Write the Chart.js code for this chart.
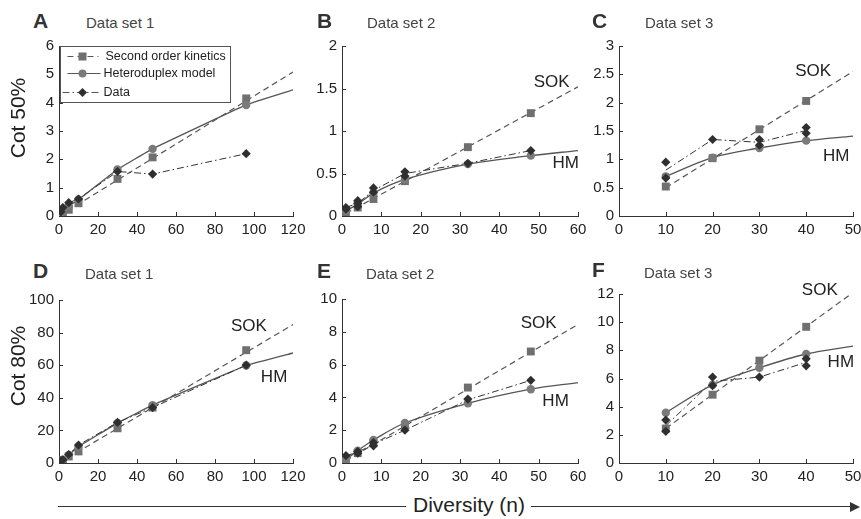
<!DOCTYPE html>
<html>
<head>
<meta charset="utf-8">
<script src="https://cdn.jsdelivr.net/npm/chart.js@4.4.0/dist/chart.umd.min.js"></script>
<style>
  html, body { margin: 0; padding: 0; background: #fff; }
  #fig { position: relative; width: 861px; height: 519px; overflow: hidden; background: #fff;
         font-family: "Liberation Sans", Arial, sans-serif; color: #222; }
  #fig canvas { position: absolute; }
  .letter { position: absolute; font-weight: bold; font-size: 21px; line-height: 21px; color: #333; }
  .subtitle { position: absolute; font-size: 15px; line-height: 15px; color: #444; }
  .ylab { position: absolute; font-size: 21px; line-height: 21px; white-space: nowrap;
          transform: translate(-50%, -50%) rotate(-90deg); }
  .axis-line { position: absolute; height: 0; border-top: 1.5px solid #333; }
  .arrow-head { position: absolute; width: 0; height: 0; border-top: 5px solid transparent;
                border-bottom: 5px solid transparent; border-left: 10px solid #333; }
  #diversity { position: absolute; font-size: 21px; line-height: 21px; white-space: nowrap; }
</style>
</head>
<body>
<div id="fig">
  <canvas id="chartA"></canvas>
  <canvas id="chartB"></canvas>
  <canvas id="chartC"></canvas>
  <canvas id="chartD"></canvas>
  <canvas id="chartE"></canvas>
  <canvas id="chartF"></canvas>

  <div class="letter" style="left:33px;top:10px">A</div>
  <div class="letter" style="left:317px;top:10px">B</div>
  <div class="letter" style="left:592px;top:10px">C</div>
  <div class="letter" style="left:33px;top:260px">D</div>
  <div class="letter" style="left:317px;top:260px">E</div>
  <div class="letter" style="left:592px;top:259px">F</div>

  <div class="subtitle" style="left:86px;top:15px">Data set 1</div>
  <div class="subtitle" style="left:367px;top:15px">Data set 2</div>
  <div class="subtitle" style="left:645px;top:15px">Data set 3</div>
  <div class="subtitle" style="left:85px;top:266px">Data set 1</div>
  <div class="subtitle" style="left:366px;top:266px">Data set 2</div>
  <div class="subtitle" style="left:644px;top:265px">Data set 3</div>

  <div class="ylab" style="left:17px;top:118px">Cot 50%</div>
  <div class="ylab" style="left:17px;top:366px">Cot 80%</div>

  <div class="axis-line" style="left:58px;top:506px;width:348px"></div>
  <div id="diversity" style="left:413px;top:494px">Diversity (n)</div>
  <div class="axis-line" style="left:531px;top:506px;width:322px"></div>
  <div class="arrow-head" style="left:850px;top:502px"></div>
</div>

<script>
// Diversity values where each data set was measured
const set1N = [1, 2, 5, 10, 30, 48, 96];
const set2N = [1, 4, 8, 16, 32, 48];
const set3N = [10, 20, 30, 40];

// Panel A: Cot 50%, data set 1
const aSquares = [0.04, 0.1, 0.22, 0.45, 1.31, 2.07, 4.15];
const aCircles = [0.1, 0.2, 0.35, 0.58, 1.64, 2.37, 3.92];
const aDiamonds = [0.15, 0.3, 0.47, 0.6, 1.57, 1.48, 2.2];
const aSokN = [0, 120];
const aSok = [0, 5.08];
const aHmN = [0, 1, 2, 5, 10, 30, 48, 96, 120];
const aHm = [0, 0.1, 0.2, 0.35, 0.58, 1.64, 2.37, 3.92, 4.45];

// Panel B: Cot 50%, data set 2
const bSquares = [0.03, 0.1, 0.2, 0.41, 0.81, 1.21];
const bCircles = [0.06, 0.14, 0.27, 0.43, 0.61, 0.71];
const bRepN = [1, 1, 4, 4, 4, 8, 8, 16, 16, 32, 48];
const bRep = [0.1, 0.08, 0.18, 0.15, 0.11, 0.33, 0.28, 0.52, 0.47, 0.62, 0.77];
const bMean = [0.1, 0.15, 0.3, 0.5, 0.62, 0.77];
const bSokN = [1, 60];
const bSok = [0.03, 1.52];
const bHmN = [1, 4, 8, 16, 32, 48, 60];
const bHm = [0.06, 0.14, 0.27, 0.43, 0.61, 0.71, 0.77];

// Panel C: Cot 50%, data set 3
const cSquares = [0.52, 1.02, 1.53, 2.03];
const cCircles = [0.7, 1.03, 1.2, 1.33];
const cRepN = [10, 10, 20, 30, 30, 40, 40];
const cRep = [0.95, 0.67, 1.35, 1.35, 1.25, 1.56, 1.46];
const cMean = [0.81, 1.35, 1.3, 1.51];
const cSokN = [10, 50];
const cSok = [0.5, 2.55];
const cHmN = [10, 20, 30, 40, 50];
const cHm = [0.7, 1.03, 1.2, 1.33, 1.41];

// Panel D: Cot 80%, data set 1
const dSquares = [1, 1.5, 4, 7.1, 21.3, 34, 69.2];
const dCircles = [1, 2, 5, 10, 24.5, 35.5, 59.8];
const dDiamonds = [1.5, 2, 5.2, 11, 24.9, 34, 60];
const dSokN = [0, 120];
const dSok = [0, 84.9];
const dHmN = [0, 1, 2, 5, 10, 30, 48, 96, 120];
const dHm = [0, 1, 2, 5, 10, 24.5, 35.5, 59.8, 67.5];

// Panel E: Cot 80%, data set 2
const eSquares = [0.15, 0.6, 1.2, 2.3, 4.6, 6.8];
const eCircles = [0.2, 0.75, 1.4, 2.44, 3.64, 4.5];
const eRepN = [1, 4, 4, 8, 8, 16, 32, 48];
const eRep = [0.45, 0.7, 0.6, 1.25, 1.05, 2.0, 3.9, 5.04];
const eMean = [0.45, 0.65, 1.15, 2.0, 3.85, 5.04];
const eSokN = [1, 60];
const eSok = [0.15, 8.45];
const eHmN = [1, 4, 8, 16, 32, 48, 60];
const eHm = [0.2, 0.75, 1.4, 2.44, 3.64, 4.5, 4.9];

// Panel F: Cot 80%, data set 3
const fSquares = [2.45, 4.85, 7.27, 9.67];
const fCircles = [3.57, 5.55, 6.76, 7.74];
const fRepN = [10, 10, 20, 20, 30, 40, 40];
const fRep = [3.05, 2.25, 6.1, 5.5, 6.1, 7.4, 6.9];
const fMean = [2.65, 5.8, 6.1, 7.15];
const fSokN = [10, 50];
const fSok = [2.45, 12.1];
const fHmN = [10, 20, 30, 40, 50];
const fHm = [3.57, 5.55, 6.76, 7.74, 8.3];

const legendLabels = ['Second order kinetics', 'Heteroduplex model', 'Data'];

const FONT = '"Liberation Sans", Arial, sans-serif';
const pts = (xs, ys) => xs.map((x, i) => ({ x, y: ys[i] }));

// small tick marks pointing into the plot
const innerTicks = {
  id: 'innerTicks',
  afterDatasetsDraw(chart) {
    const { ctx, chartArea: ca, scales: { x, y } } = chart;
    ctx.save();
    ctx.strokeStyle = '#333';
    ctx.lineWidth = 1;
    ctx.beginPath();
    x.ticks.forEach((t, i) => {
      if (i === 0) return;
      const px = Math.round(x.getPixelForValue(t.value)) + 0.5;
      ctx.moveTo(px, ca.bottom);
      ctx.lineTo(px, ca.bottom - 4);
    });
    y.ticks.forEach((t, i) => {
      if (i === 0) return;
      const py = Math.round(y.getPixelForValue(t.value)) + 0.5;
      ctx.moveTo(ca.left, py);
      ctx.lineTo(ca.left + 4, py);
    });
    ctx.stroke();
    ctx.restore();
  }
};

// SOK / HM labels next to the fitted curves
const curveNotes = {
  id: 'curveNotes',
  afterDatasetsDraw(chart, args, opts) {
    if (!opts.items) return;
    const { ctx, scales: { x, y } } = chart;
    ctx.save();
    ctx.fillStyle = '#222';
    ctx.font = '17px ' + FONT;
    ctx.textAlign = 'center';
    ctx.textBaseline = 'middle';
    opts.items.forEach(it => ctx.fillText(it.text, x.getPixelForValue(it.n), y.getPixelForValue(it.v)));
    ctx.restore();
  }
};

function square(ctx, x, y, r, c) { ctx.fillStyle = c; ctx.fillRect(x - r, y - r, 2 * r, 2 * r); }
function circle(ctx, x, y, r, c) { ctx.fillStyle = c; ctx.beginPath(); ctx.arc(x, y, r, 0, Math.PI * 2); ctx.fill(); }
function diamond(ctx, x, y, r, c) {
  ctx.fillStyle = c; ctx.beginPath();
  ctx.moveTo(x, y - r); ctx.lineTo(x + r, y); ctx.lineTo(x, y + r); ctx.lineTo(x - r, y); ctx.closePath(); ctx.fill();
}

// boxed legend in the top left of panel A
const legendBox = {
  id: 'legendBox',
  afterDraw(chart) {
    const { ctx, chartArea: ca } = chart;
    const x0 = ca.left + 1.5, y0 = ca.top + 0.5, w = 170, h = 56;
    ctx.save();
    ctx.fillStyle = '#fff';
    ctx.fillRect(x0, y0, w, h);
    ctx.strokeStyle = '#555';
    ctx.lineWidth = 1;
    ctx.strokeRect(x0, y0, w, h);
    const rows = [y0 + 10, y0 + 27, y0 + 46];
    const samples = [
      { dash: [6, 4], mark: square, r: 4, c: '#6f6f6f', from: 7, to: 38 },
      { dash: [], mark: circle, r: 4, c: '#7a7a7a', from: 7, to: 40 },
      { dash: [7, 3, 1.5, 3], mark: diamond, r: 4.5, c: '#2f2f2f', from: 2, to: 40 }
    ];
    samples.forEach((s, i) => {
      ctx.strokeStyle = '#555';
      ctx.lineWidth = 1.2;
      ctx.setLineDash(s.dash);
      ctx.beginPath();
      ctx.moveTo(x0 + s.from, rows[i]);
      ctx.lineTo(x0 + s.to, rows[i]);
      ctx.stroke();
      ctx.setLineDash([]);
      s.mark(ctx, x0 + 22, rows[i], s.r, s.c);
    });
    ctx.fillStyle = '#222';
    ctx.font = '12.5px ' + FONT;
    ctx.textBaseline = 'middle';
    ctx.fillText(legendLabels[0], x0 + 45, rows[0]);
    ctx.fillText(legendLabels[1], x0 + 43, rows[1]);
    ctx.fillText(legendLabels[2], x0 + 43, rows[2]);
    ctx.restore();
  }
};

const PAD_L = 50, PAD_T = 12, PAD_R = 22, PAD_B = 30;

function makePanel(id, box, p) {
  const canvas = document.getElementById(id);
  canvas.width = box.r - box.l + PAD_L + PAD_R;
  canvas.height = box.b - box.t + PAD_T + PAD_B;
  canvas.style.left = (box.l - PAD_L) + 'px';
  canvas.style.top = (box.t - PAD_T) + 'px';

  const axis = (min, max, step, fit) => ({
    type: 'linear', min, max,
    ticks: { stepSize: step, color: '#222', padding: 5, autoSkip: false, maxRotation: 0,
             font: { family: FONT, size: 15 },
             callback: v => String(Number(v.toFixed(3))) },
    grid: { display: false, drawTicks: false },
    border: { display: true, color: '#333', width: 1 },
    afterFit: fit
  });

  const datasets = [
    { data: pts(p.sokN, p.sok), showLine: true, borderColor: '#555', borderWidth: 1.2,
      borderDash: [6, 4], pointRadius: 0, order: 5 },
    { data: pts(p.hmN, p.hm), showLine: true, borderColor: '#555', borderWidth: 1.3,
      tension: p.tension, pointRadius: 0, order: 4 },
    { data: pts(p.meanN, p.mean), showLine: true, borderColor: '#333', borderWidth: 1,
      borderDash: [7, 3, 1.5, 3], pointRadius: 0, order: 3 },
    { data: pts(p.n, p.squares), pointStyle: 'rect', pointRadius: 5.6,
      backgroundColor: '#6f6f6f', borderWidth: 0, order: 2 },
    { data: pts(p.n, p.circles), pointStyle: 'circle', pointRadius: 4.2,
      backgroundColor: '#7a7a7a', borderWidth: 0, order: 1 },
    { data: pts(p.repN, p.rep), pointStyle: 'rectRot', pointRadius: 4.6,
      backgroundColor: '#2f2f2f', borderWidth: 0, order: 0 }
  ];

  return new Chart(canvas, {
    type: 'scatter',
    data: { datasets },
    options: {
      responsive: false,
      animation: false,
      devicePixelRatio: 1,
      layout: { padding: { left: 0, top: PAD_T, right: PAD_R, bottom: 0 } },
      scales: {
        x: axis(p.xMin, p.xMax, p.xStep, s => { s.height = PAD_B; }),
        y: axis(0, p.yMax, p.yStep, s => { s.width = PAD_L; })
      },
      plugins: {
        legend: { display: false },
        tooltip: { enabled: false },
        curveNotes: { items: p.notes || [] }
      }
    },
    plugins: p.legend ? [innerTicks, curveNotes, legendBox] : [innerTicks, curveNotes]
  });
}

makePanel('chartA', { l: 59, t: 44, r: 293, b: 216 }, {
  n: set1N, squares: aSquares, circles: aCircles, repN: set1N, rep: aDiamonds,
  meanN: set1N, mean: aDiamonds, sokN: aSokN, sok: aSok, hmN: aHmN, hm: aHm, tension: 0.1,
  xMin: 0, xMax: 120, xStep: 20, yMax: 6, yStep: 1, legend: true
});

makePanel('chartB', { l: 342, t: 44, r: 578, b: 216 }, {
  n: set2N, squares: bSquares, circles: bCircles, repN: bRepN, rep: bRep,
  meanN: set2N, mean: bMean, sokN: bSokN, sok: bSok, hmN: bHmN, hm: bHm, tension: 0.35,
  xMin: 0, xMax: 60, xStep: 10, yMax: 2, yStep: 0.5,
  notes: [{ text: 'SOK', n: 53.3, v: 1.57 }, { text: 'HM', n: 56.9, v: 0.62 }]
});

makePanel('chartC', { l: 619, t: 44, r: 853, b: 216 }, {
  n: set3N, squares: cSquares, circles: cCircles, repN: cRepN, rep: cRep,
  meanN: set3N, mean: cMean, sokN: cSokN, sok: cSok, hmN: cHmN, hm: cHm, tension: 0.35,
  xMin: 0, xMax: 50, xStep: 10, yMax: 3, yStep: 0.5,
  notes: [{ text: 'SOK', n: 41.5, v: 2.55 }, { text: 'HM', n: 46.4, v: 1.06 }]
});

makePanel('chartD', { l: 59, t: 298, r: 293, b: 463 }, {
  n: set1N, squares: dSquares, circles: dCircles, repN: set1N, rep: dDiamonds,
  meanN: set1N, mean: dDiamonds, sokN: dSokN, sok: dSok, hmN: dHmN, hm: dHm, tension: 0.1,
  xMin: 0, xMax: 120, xStep: 20, yMax: 100, yStep: 20,
  notes: [{ text: 'SOK', n: 97.4, v: 83.6 }, { text: 'HM', n: 110.3, v: 52.6 }]
});

makePanel('chartE', { l: 342, t: 297, r: 578, b: 463 }, {
  n: set2N, squares: eSquares, circles: eCircles, repN: eRepN, rep: eRep,
  meanN: set2N, mean: eMean, sokN: eSokN, sok: eSok, hmN: eHmN, hm: eHm, tension: 0.35,
  xMin: 0, xMax: 60, xStep: 10, yMax: 10, yStep: 2,
  notes: [{ text: 'SOK', n: 50.0, v: 8.54 }, { text: 'HM', n: 54.3, v: 3.74 }]
});

makePanel('chartF', { l: 619, t: 292, r: 853, b: 463 }, {
  n: set3N, squares: fSquares, circles: fCircles, repN: fRepN, rep: fRep,
  meanN: set3N, mean: fMean, sokN: fSokN, sok: fSok, hmN: fHmN, hm: fHm, tension: 0.35,
  xMin: 0, xMax: 50, xStep: 10, yMax: 12, yStep: 2,
  notes: [{ text: 'SOK', n: 42.9, v: 12.26 }, { text: 'HM', n: 47.4, v: 7.16 }]
});
</script>
</body>
</html>
